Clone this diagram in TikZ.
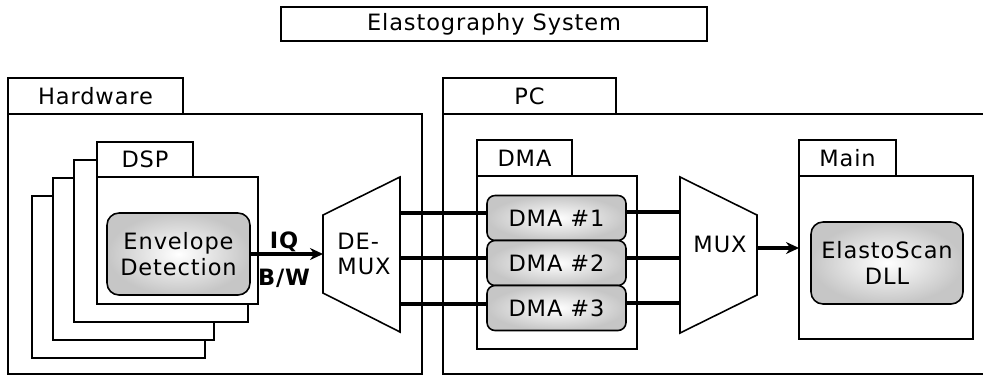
\documentclass[tikz,border=0pt]{standalone}
\usepackage{fontspec}
\setmainfont{DejaVu Sans}[LetterSpace=4]
\usetikzlibrary{arrows.meta}

\begin{document}
\begin{tikzpicture}[x=0.02cm, y=-0.02cm, font=\fontsize{12.8}{14.5}\selectfont,
  box/.style={draw, line width=0.9pt, fill=white},
  frame/.style={draw, line width=0.9pt},
  blk/.style={draw, line width=0.9pt, rounded corners=0.24cm, shading=radial, inner color=white, outer color=gray!45, inner sep=0pt, align=center},
  bus/.style={line width=2pt},
  flow/.style={line width=2pt, -{Stealth[length=2.6mm, width=2.4mm]}}]
  \useasboundingbox (0,0) rectangle (983,376);
  \node[box, minimum width=8.52cm, minimum height=0.68cm, inner sep=0pt] (title) at (494,24) {Elastography System};

  \draw[box] (8,78) rectangle (183,114);
  \draw[box] (8,114) rectangle (422,374);
  \node (hw) at (95.5,96) {Hardware};
  \draw[box] (443,78) rectangle (616,114);
  \draw[box] (443,114) rectangle (995,374);
  \node (pc) at (529.5,96) {PC};

  \draw[frame] (53,196) -- (32,196) -- (32,358) -- (205,358) -- (205,340);
  \draw[frame] (74,178) -- (53,178) -- (53,340) -- (214,340) -- (214,322);
  \draw[frame] (97,160) -- (74,160) -- (74,322) -- (248,322) -- (248,304);
  \draw[box] (97,142) rectangle (193,177);
  \draw[box] (97,177) rectangle (258,304);
  \node (dsp) at (145,159.5) {DSP};
  \node[blk, minimum width=2.86cm, minimum height=1.64cm] (env) at (178.5,254) {Envelope\\Detection};
  \node[font=\fontsize{12.8}{14.5}\selectfont\bfseries] (iq) at (284,242) {IQ};
  \node[font=\fontsize{12.8}{14.5}\selectfont\bfseries] (bw) at (284,278) {B/W};

  \draw[box] (323,215) -- (400,177) -- (400,332) -- (323,293) -- cycle;
  \node[align=left] (demux) at (364,254) {DE-\\MUX};
  \coordinate (dmx-w) at (323,254);
  \draw[flow] (env.east) -- (dmx-w);

  \draw[box] (477,140) rectangle (572,176);
  \draw[box] (477,176) rectangle (637,349);
  \node (dma) at (524.5,158) {DMA};
  \node[blk, rounded corners=0.16cm, minimum width=2.78cm, minimum height=0.9cm] (dma1) at (556.5,218) {DMA \#1};
  \node[blk, rounded corners=0.16cm, minimum width=2.78cm, minimum height=0.9cm] (dma2) at (556.5,263) {DMA \#2};
  \node[blk, rounded corners=0.16cm, minimum width=2.78cm, minimum height=0.9cm] (dma3) at (556.5,308) {DMA \#3};

  \draw[box] (680,177) -- (757,215) -- (757,295) -- (680,333) -- cycle;
  \node (mux) at (720,244) {MUX};

  \coordinate (dx1) at (400,213);
  \coordinate (dx2) at (400,258);
  \coordinate (dx3) at (400,304);
  \coordinate (mx1) at (680,212);
  \coordinate (mx2) at (680,258);
  \coordinate (mx3) at (680,303);
  \draw[bus] (dx1) -- (dx1 -| dma1.west);
  \draw[bus] (dx2) -- (dx2 -| dma2.west);
  \draw[bus] (dx3) -- (dx3 -| dma3.west);
  \draw[bus] (dma1.east |- mx1) -- (mx1);
  \draw[bus] (dma2.east |- mx2) -- (mx2);
  \draw[bus] (dma3.east |- mx3) -- (mx3);

  \draw[box] (799,140) rectangle (896,176);
  \draw[box] (799,176) rectangle (973,339);
  \node (main) at (847.5,158) {Main};
  \node[blk, minimum width=3.04cm, minimum height=1.64cm] (dll) at (887,263) {ElastoScan\\DLL};
  \coordinate (mux-e) at (757,248);
  \coordinate (main-w) at (799,248);
  \draw[flow] (mux-e) -- (main-w);
\end{tikzpicture}
\end{document}
